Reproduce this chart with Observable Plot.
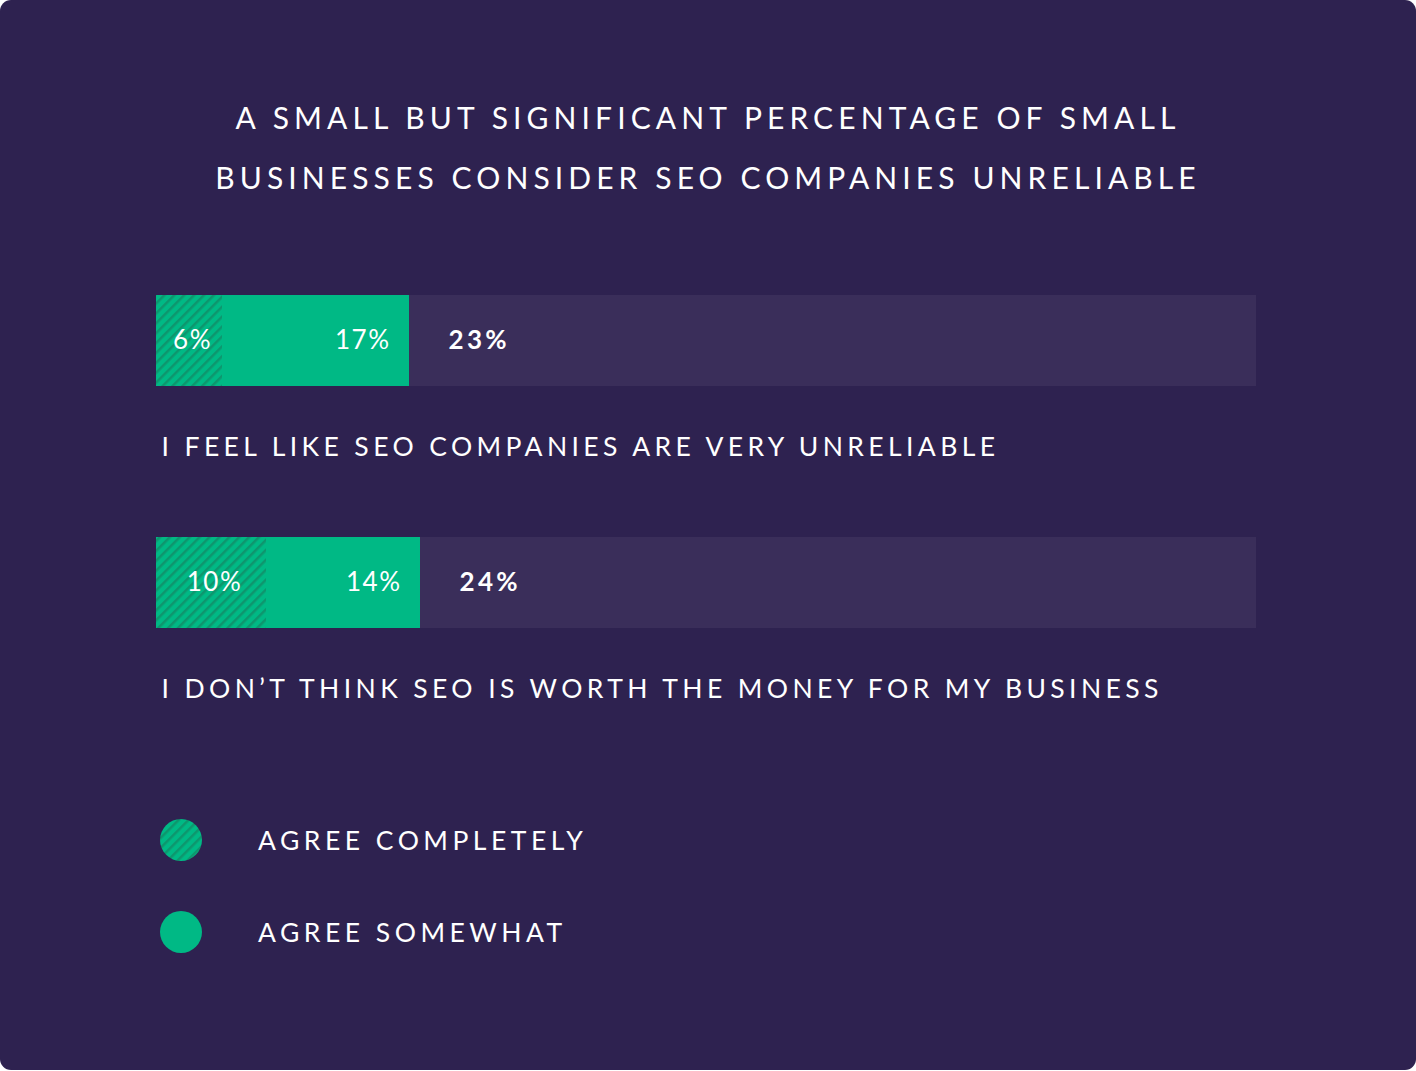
<!DOCTYPE html>
<html>
<head>
<meta charset="utf-8">
<script src="https://cdn.jsdelivr.net/npm/d3@7"></script>
<script src="https://cdn.jsdelivr.net/npm/@observablehq/plot@0.6"></script>
<style>
  html, body { margin: 0; padding: 0; background: #ffffff; }
  #card {
    position: relative; width: 1416px; height: 1070px; background: #2e2250;
    border-radius: 11px; overflow: hidden; font-family: Lato, "Open Sans", sans-serif; color: #ffffff;
  }
  #title {
    position: absolute; left: 0; top: 87px; width: 1416px; text-align: center;
    font-size: 30px; line-height: 60px; letter-spacing: 5.1px; font-weight: 400;
  }
  #plot { position: absolute; left: 0; top: 240px; }
  #legend { position: absolute; left: 159px; top: 818px; }
  .item { display: flex; align-items: center; height: 44px; margin-bottom: 48px; }
  .item svg { display: block; }
  .item span { margin-left: 55px; font-size: 26.5px; letter-spacing: 4.5px; }
  svg text { font-family: Lato, "Open Sans", sans-serif; }
</style>
</head>
<body>
<div id="card">
  <div id="title"></div>
  <div id="plot"></div>
  <div id="legend"></div>
</div>
<script>
const titleLines = ["A SMALL BUT SIGNIFICANT PERCENTAGE OF SMALL", "BUSINESSES CONSIDER SEO COMPANIES UNRELIABLE"];
const categories = ["I FEEL LIKE SEO COMPANIES ARE VERY UNRELIABLE", "I DON’T THINK SEO IS WORTH THE MONEY FOR MY BUSINESS"];
const agreeCompletely = [6, 10];
const agreeSomewhat = [17, 14];
const totals = [23, 24];
const legendLabels = ["AGREE COMPLETELY", "AGREE SOMEWHAT"];

const GREEN = "#00b985", STRIPE = "#0e966e", TRACK = "#3a2e5a";

document.getElementById("title").innerHTML = titleLines.join("<br>");

const rows = categories.map((c, i) => ({
  cat: c, comp: agreeCompletely[i], some: agreeSomewhat[i],
  end: agreeCompletely[i] + agreeSomewhat[i], total: totals[i]
}));

const chart = Plot.plot({
  width: 1416, height: 500,
  marginLeft: 156, marginRight: 160, marginTop: 0, marginBottom: 0,
  x: {domain: [0, 100], axis: null},
  y: {domain: categories, range: [55, 539], padding: 0, axis: null},
  style: {background: "transparent", color: "#ffffff", overflow: "visible"},
  marks: [
    Plot.barX(rows, {y: "cat", x1: 0, x2: 100, fill: TRACK, insetBottom: 151}),
    Plot.barX(rows, {y: "cat", x1: 0, x2: "comp", fill: "url(#hatch)", insetBottom: 151}),
    Plot.barX(rows, {y: "cat", x1: "comp", x2: "end", fill: GREEN, insetBottom: 151}),
    Plot.text(rows, {y: "cat", x: d => d.comp / 2, text: d => d.comp + "%", dx: 3, dy: -75.5,
      fill: "#fff", fontSize: 26, textAnchor: "middle"}),
    Plot.text(rows, {y: "cat", x: "end", text: d => d.some + "%", dx: -19, dy: -75.5,
      fill: "#fff", fontSize: 26, textAnchor: "end"}),
    Plot.text(rows, {y: "cat", x: "end", text: d => d.total + "%", dx: 39, dy: -75.5,
      fill: "#fff", fontSize: 26, fontWeight: 700, textAnchor: "start"}),
    Plot.text(rows, {y: "cat", x: 0, text: "cat", dx: 5, dy: 31,
      fill: "#fff", fontSize: 26.5, textAnchor: "start"})
  ]
});

// letter spacing per text layer (Plot has no letterSpacing option)
const spacings = ["1.5px", "1.5px", "3.3px", "4.4px"];
d3.select(chart).selectAll('g[aria-label="text"]').each(function(_, i) {
  this.style.letterSpacing = spacings[i];
});

const defs = `<defs><pattern id="hatch" patternUnits="userSpaceOnUse" width="7" height="7" patternTransform="rotate(45)">
  <rect width="7" height="7" fill="${GREEN}"></rect><rect width="2.5" height="7" fill="${STRIPE}"></rect></pattern></defs>`;
d3.select(chart).insert("g", ":first-child").html(defs);
document.getElementById("plot").appendChild(chart);

const legend = document.getElementById("legend");
legendLabels.forEach((label, i) => {
  const fill = i === 0 ? "url(#hatch)" : GREEN;
  const div = document.createElement("div");
  div.className = "item";
  div.innerHTML = `<svg width="44" height="44"><circle cx="22" cy="22" r="21" fill="${fill}"></circle></svg><span>${label}</span>`;
  legend.appendChild(div);
});
</script>
</body>
</html>
